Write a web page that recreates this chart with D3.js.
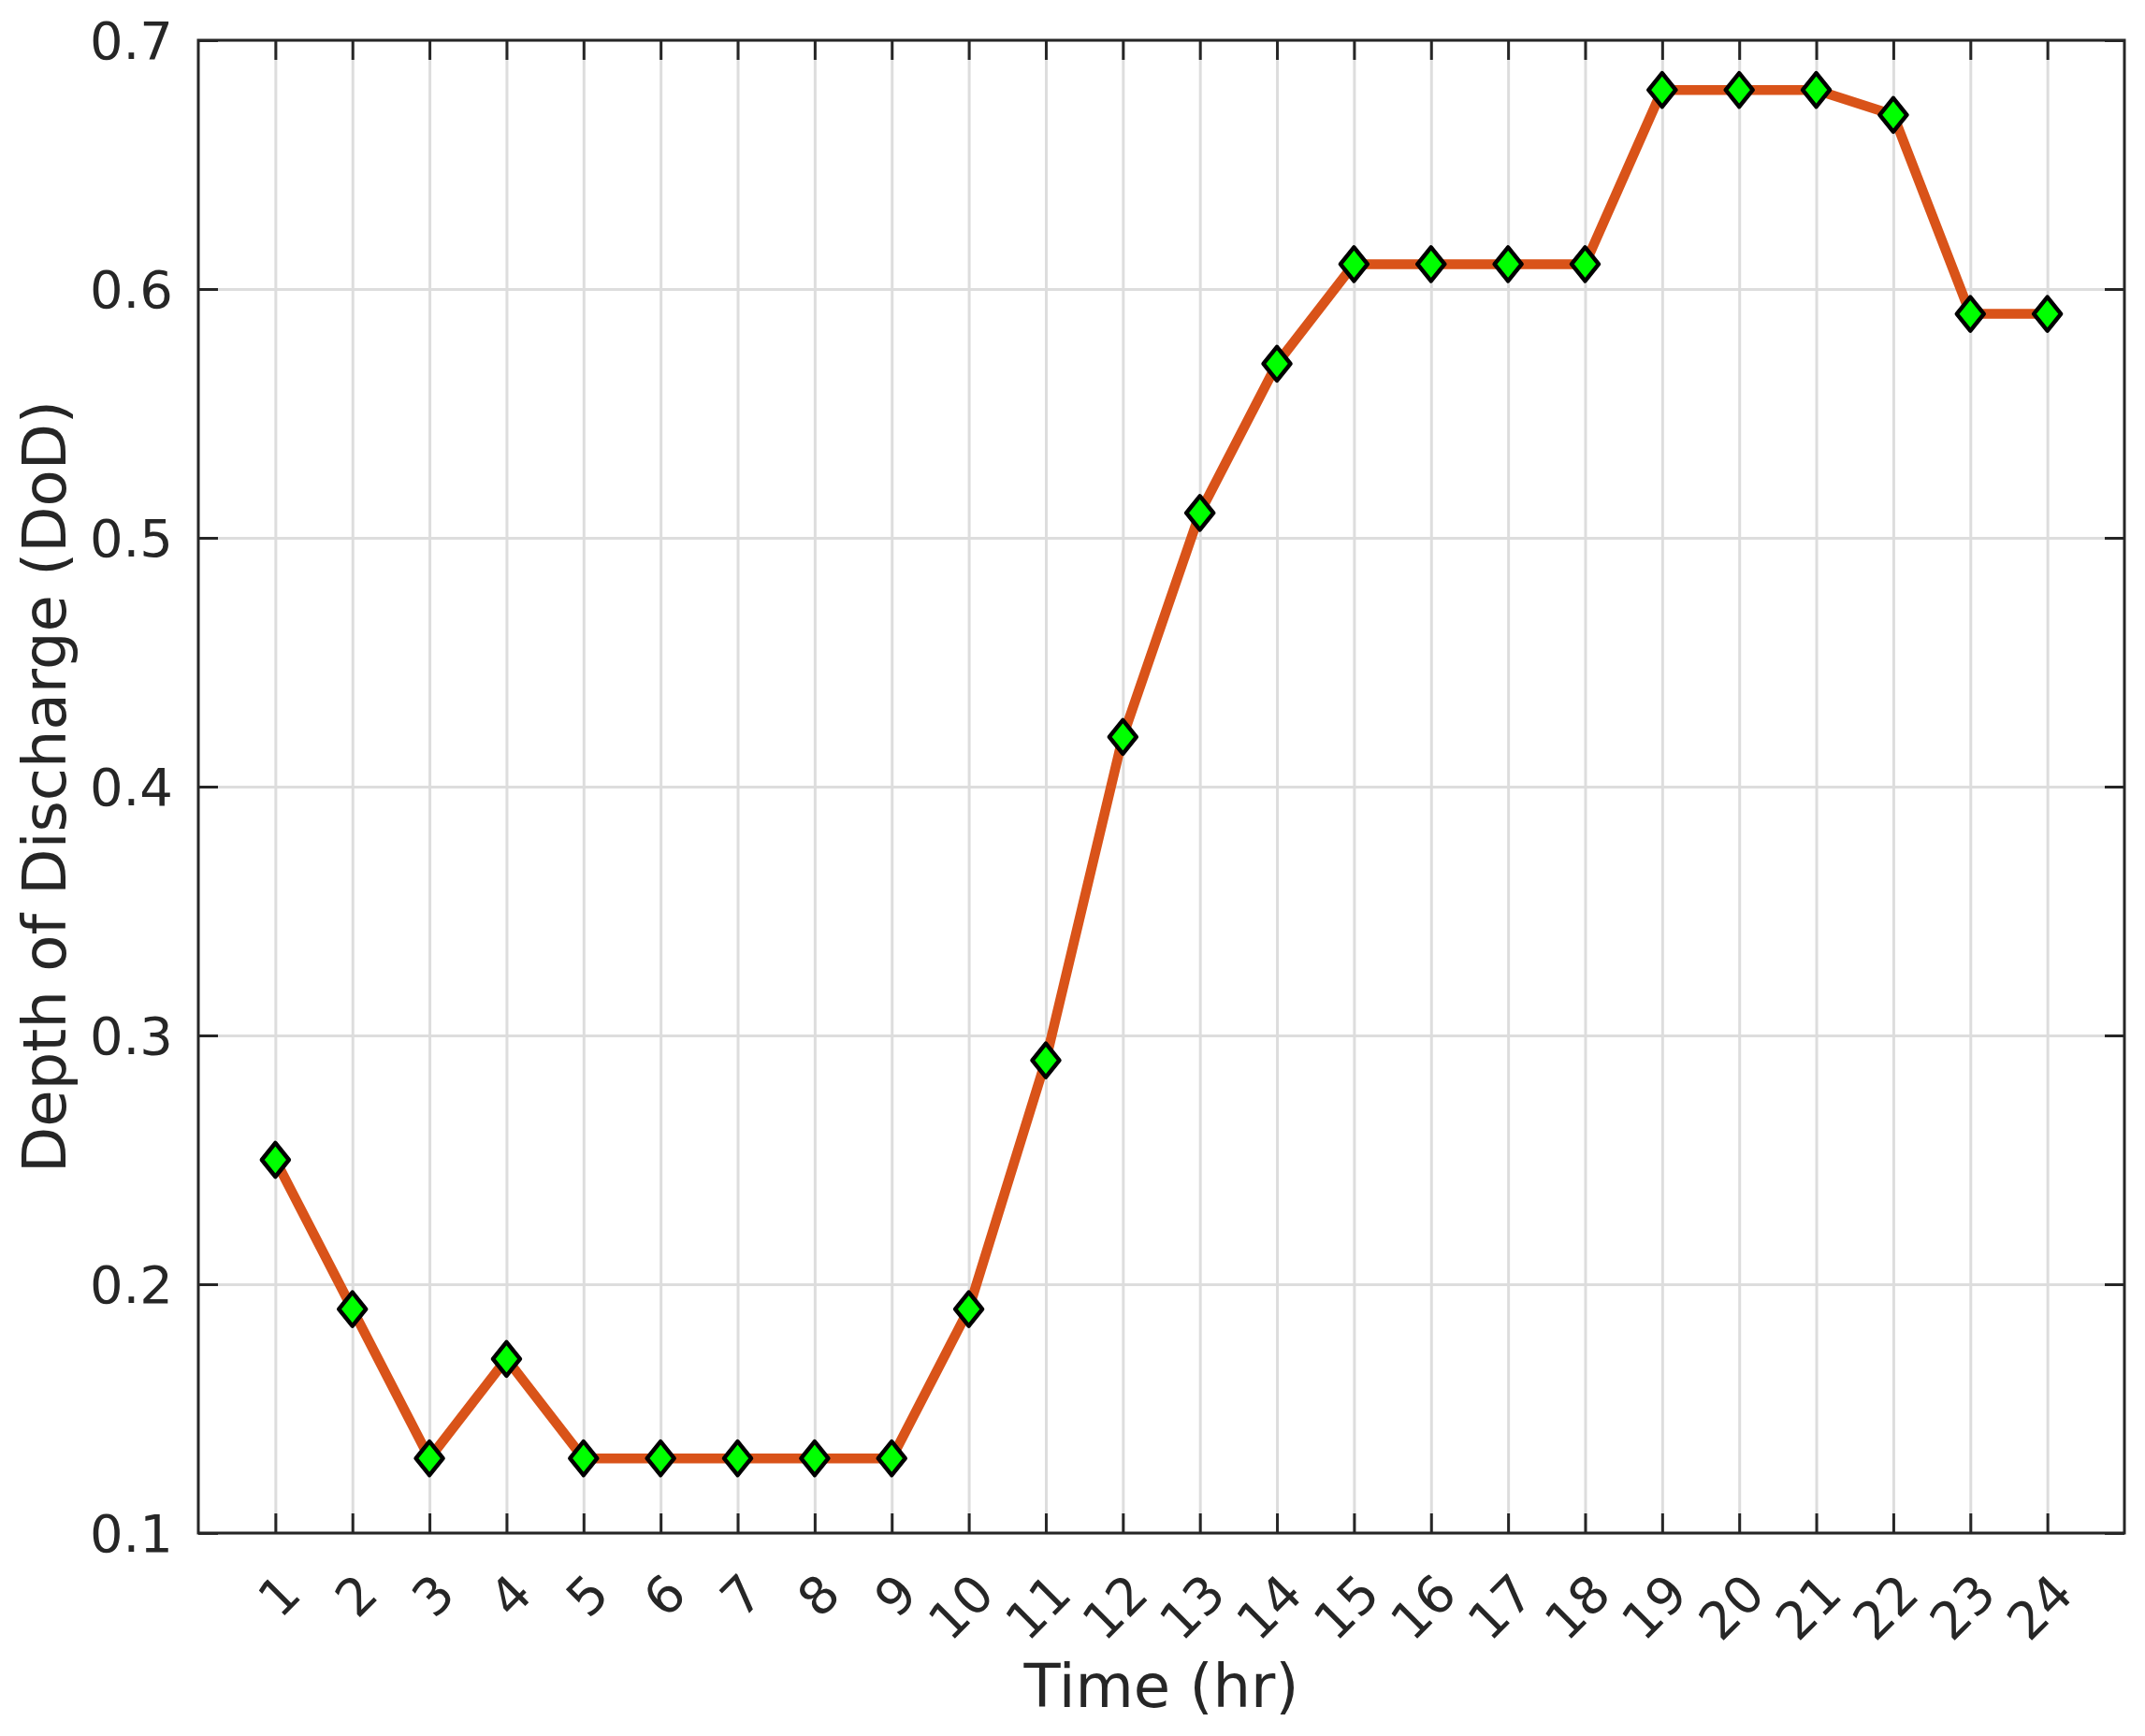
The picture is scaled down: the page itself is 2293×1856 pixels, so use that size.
<!DOCTYPE html>
<html>
<head>
<meta charset="utf-8">
<script src="https://cdn.jsdelivr.net/npm/d3@7"></script>
<style>
  html, body { margin: 0; padding: 0; background: #ffffff; }
  svg { display: block; }
  text { font-family: "DejaVu Sans", sans-serif; fill: #262626; }
</style>
</head>
<body>
<svg id="chart" width="2293" height="1856"></svg>
<script>
// ---- data ----
const hours = [1,2,3,4,5,6,7,8,9,10,11,12,13,14,15,16,17,18,19,20,21,22,23,24];
const dod   = [0.25,0.19,0.13,0.17,0.13,0.13,0.13,0.13,0.13,0.19,0.29,0.42,0.51,0.57,0.61,0.61,0.61,0.61,0.68,0.68,0.68,0.67,0.59,0.59];
const yTicks = [0.1,0.2,0.3,0.4,0.5,0.6,0.7];
const xTickLabels = ["1","2","3","4","5","6","7","8","9","10","11","12","13","14","15","16","17","18","19","20","21","22","23","24"];
const xLabel = "Time (hr)";
const yLabel = "Depth of Discharge (DoD)";

// ---- layout ----
const W = 2293, H = 1856;
const L = 212, R = 2271, T = 43, B = 1639;

const svg = d3.select("#chart");
svg.append("rect").attr("width", W).attr("height", H).attr("fill", "#fff");

const x = d3.scaleLinear().domain([0, 25]).range([L, R]);
const y = d3.scaleLinear().domain([0.1, 0.7]).range([B, T]);

// grid
const grid = svg.append("g");
grid.append("g").attr("transform", `translate(0,${B})`)
  .call(d3.axisBottom(x).tickValues(hours).tickSize(-(B - T)).tickFormat(""))
  .call(g => g.select(".domain").remove())
  .call(g => g.selectAll("line").attr("stroke", "#dddddd").attr("stroke-width", 3));
grid.append("g").attr("transform", `translate(${L},0)`)
  .call(d3.axisLeft(y).tickValues(yTicks).tickSize(-(R - L)).tickFormat(""))
  .call(g => g.select(".domain").remove())
  .call(g => g.selectAll("line").attr("stroke", "#dddddd").attr("stroke-width", 3));

// tick marks (inward, all four sides)
const tk = 21;
function styleTicks(g) {
  g.select(".domain").remove();
  g.selectAll("line").attr("stroke", "#262626").attr("stroke-width", 3);
}
svg.append("g").attr("transform", `translate(0,${B})`)
  .call(d3.axisBottom(x).tickValues(hours).tickSize(-tk).tickFormat("")).call(styleTicks);
svg.append("g").attr("transform", `translate(0,${T})`)
  .call(d3.axisTop(x).tickValues(hours).tickSize(-tk).tickFormat("")).call(styleTicks);
svg.append("g").attr("transform", `translate(${L},0)`)
  .call(d3.axisLeft(y).tickValues(yTicks).tickSize(-tk).tickFormat("")).call(styleTicks);
svg.append("g").attr("transform", `translate(${R},0)`)
  .call(d3.axisRight(y).tickValues(yTicks).tickSize(-tk).tickFormat("")).call(styleTicks);

// box
svg.append("rect").attr("x", L).attr("y", T).attr("width", R - L).attr("height", B - T)
  .attr("fill", "none").attr("stroke", "#262626").attr("stroke-width", 3);

// y tick labels
svg.append("g").selectAll("text").data(yTicks).join("text")
  .attr("x", L - 27).attr("y", d => y(d)).attr("dy", "0.36em")
  .attr("text-anchor", "end").attr("font-size", 56)
  .text(d => d3.format(".1f")(d));

// x tick labels, rotated 45°
svg.append("g").selectAll("text").data(hours).join("text")
  .attr("text-anchor", "end").attr("font-size", 55)
  .attr("transform", d => `translate(${x(d) + 16},${B + 54}) rotate(-45)`)
  .attr("dy", "0.36em")
  .text((d, i) => xTickLabels[i]);

// line
const line = d3.line().x((d, i) => x(hours[i])).y(d => y(d));
svg.append("path").datum(dod).attr("d", line)
  .attr("fill", "none").attr("stroke", "#D95319").attr("stroke-width", 10.5)
  .attr("stroke-linejoin", "round");

// diamond markers
const hw = 14.5, hh = 18;
svg.append("g").selectAll("path").data(dod).join("path")
  .attr("d", (d, i) => {
    const cx = x(hours[i]), cy = y(d);
    const p = d3.path();
    p.moveTo(cx, cy - hh); p.lineTo(cx + hw, cy); p.lineTo(cx, cy + hh); p.lineTo(cx - hw, cy); p.closePath();
    return p.toString();
  })
  .attr("fill", "#00ff00").attr("stroke", "#000").attr("stroke-width", 4.5)
  .attr("stroke-linejoin", "round");

// axis labels
svg.append("text").attr("x", (L + R) / 2).attr("y", 1825)
  .attr("text-anchor", "middle").attr("font-size", 64).text(xLabel);
svg.append("text").attr("transform", `translate(70,${(T + B) / 2}) rotate(-90)`)
  .attr("text-anchor", "middle").attr("font-size", 64).text(yLabel);
</script>
</body>
</html>
